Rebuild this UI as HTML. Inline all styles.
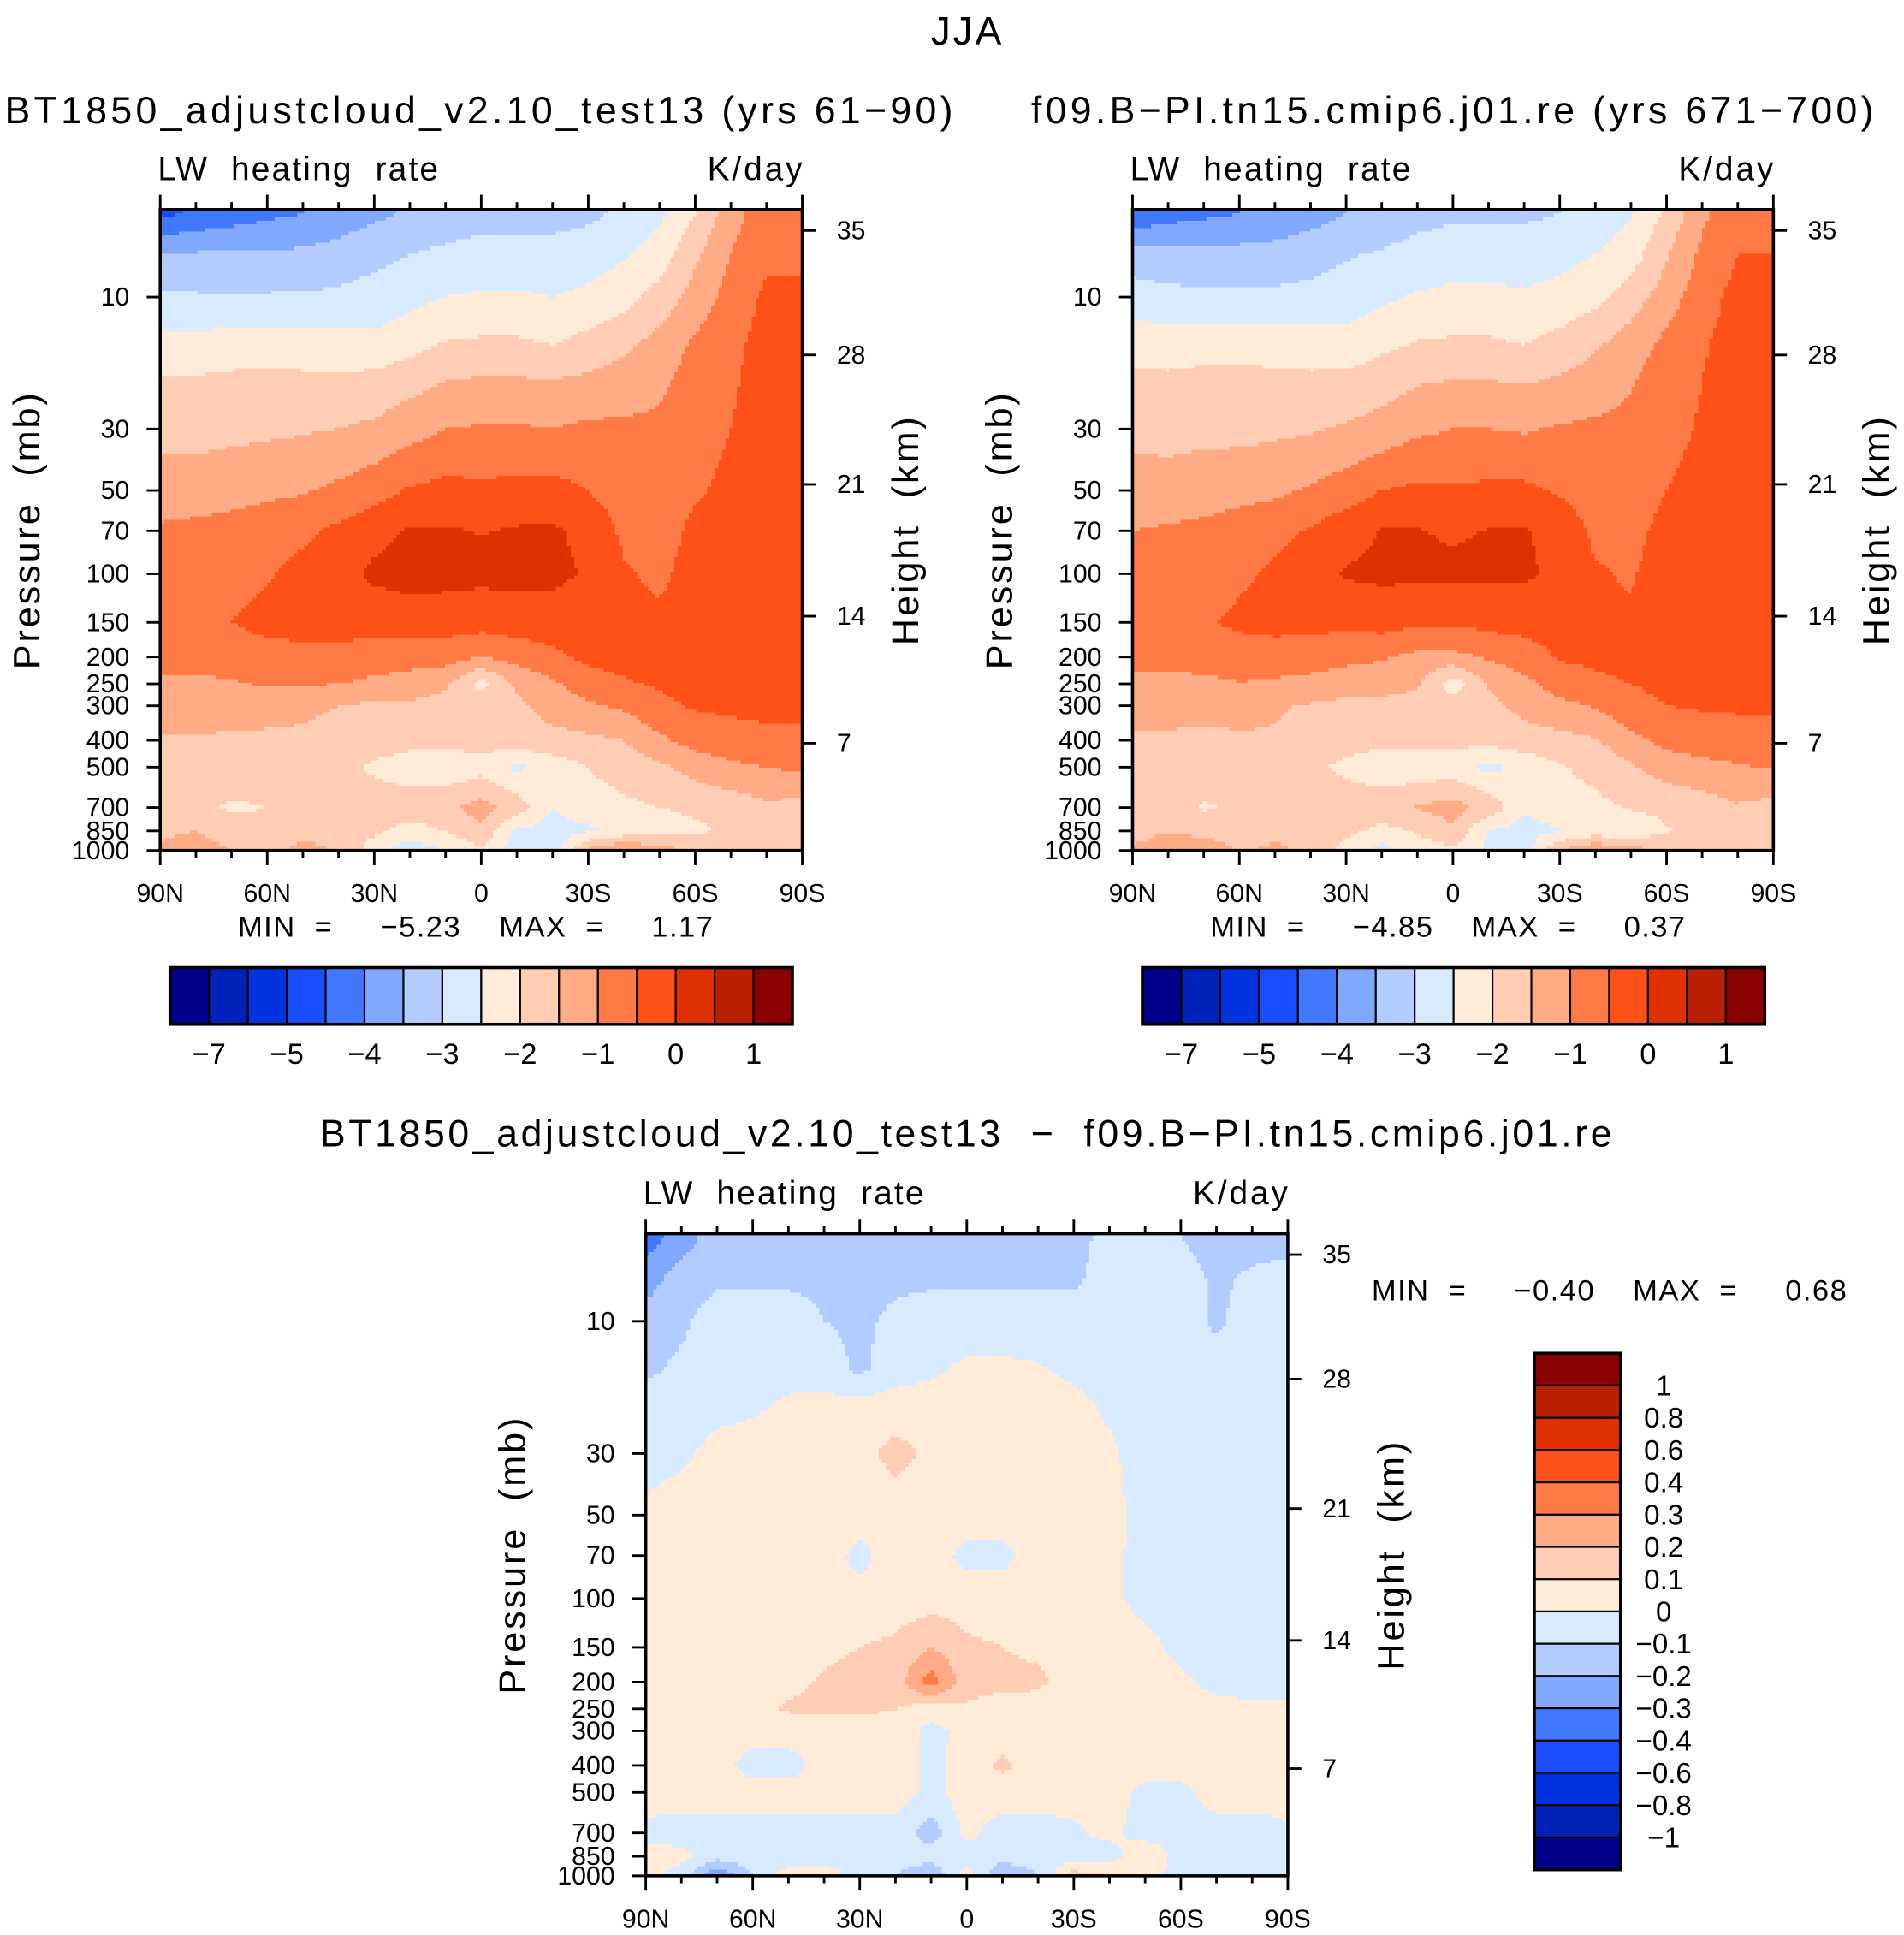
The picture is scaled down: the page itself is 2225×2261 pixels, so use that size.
<!DOCTYPE html>
<html><head><meta charset="utf-8">
<style>
html,body{margin:0;padding:0;background:#fff;}
svg{display:block;font-family:"Liberation Sans",sans-serif;}
text{white-space:pre;}
</style></head>
<body>
<svg id="root" width="2225" height="2261" viewBox="0 0 1545 1570" xmlns="http://www.w3.org/2000/svg">
<text x="785" y="36" font-size="32" text-anchor="middle" letter-spacing="2">JJA</text>
<g id="p1"></g>
<g id="p2"></g>
<g id="p3"></g>
</svg>
<script>
const NS="http://www.w3.org/2000/svg";
const lats=[90,80,70,60,50,40,30,20,10,0,-10,-20,-30,-40,-50,-60,-70,-80,-90];
const plevs=[5,7,10,15,20,30,50,70,100,150,200,250,300,400,500,700,850,1000];
const absLevels=[-7,-6,-5,-4.5,-4,-3.5,-3,-2.5,-2,-1.5,-1,-0.5,0,0.5,1];
const absLabels=["−7","−5","−4","−3","−2","−1","0","1"];
const diffLevels=[-1,-0.8,-0.6,-0.4,-0.3,-0.2,-0.1,0,0.1,0.2,0.3,0.4,0.6,0.8,1];
const diffLabels=["−1","−0.8","−0.6","−0.4","−0.3","−0.2","−0.1","0","0.1","0.2","0.3","0.4","0.6","0.8","1"];
const colors=["#00008b","#0022b8","#0033e0","#1a4dff","#4078ff","#80a8ff","#b3ccff","#d8eaff","#ffebd8","#ffcdb3","#ffab85","#ff7a45","#ff5018","#e03000","#b82000","#8b0000"];
const field1=[
[-4.65,-4.4,-4.25,-4.1,-4.0,-3.8,-3.6,-3.45,-3.3,-3.2,-3.2,-3.2,-3.1,-2.9,-2.6,-2.0,-1.2,-0.7,-0.7],
[-3.45,-3.45,-3.45,-3.45,-3.4,-3.3,-3.15,-3.0,-2.9,-2.8,-2.8,-2.8,-2.75,-2.55,-2.3,-1.6,-1.0,-0.6,-0.6],
[-2.9,-2.95,-2.95,-2.95,-2.95,-2.9,-2.8,-2.65,-2.5,-2.45,-2.45,-2.5,-2.4,-2.2,-1.8,-1.3,-0.8,-0.4,-0.4],
[-2.3,-2.3,-2.25,-2.2,-2.25,-2.3,-2.35,-2.15,-1.95,-1.9,-1.9,-2.0,-1.8,-1.6,-1.3,-0.9,-0.6,-0.35,-0.35],
[-1.95,-1.95,-1.9,-1.9,-1.9,-1.9,-1.85,-1.7,-1.5,-1.45,-1.45,-1.5,-1.4,-1.3,-1.1,-0.8,-0.55,-0.35,-0.35],
[-1.7,-1.7,-1.65,-1.6,-1.55,-1.5,-1.4,-1.2,-1.0,-0.95,-0.95,-1.0,-0.9,-0.9,-0.9,-0.7,-0.5,-0.35,-0.35],
[-1.2,-1.2,-1.15,-1.1,-1.05,-0.9,-0.7,-0.45,-0.35,-0.4,-0.35,-0.35,-0.5,-0.75,-0.8,-0.55,-0.4,-0.3,-0.3],
[-0.95,-0.9,-0.85,-0.75,-0.6,-0.4,-0.15,0.05,0.05,-0.02,0.05,0.08,-0.15,-0.6,-0.7,-0.4,-0.3,-0.3,-0.3],
[-0.8,-0.75,-0.7,-0.55,-0.35,-0.2,0.1,0.15,0.15,0.12,0.15,0.12,-0.05,-0.45,-0.6,-0.3,-0.3,-0.3,-0.3],
[-0.7,-0.65,-0.5,-0.35,-0.25,-0.25,-0.3,-0.2,-0.25,-0.3,-0.25,-0.25,-0.3,-0.35,-0.4,-0.3,-0.3,-0.3,-0.3],
[-0.8,-0.8,-0.75,-0.7,-0.7,-0.7,-0.75,-0.8,-0.8,-1.0,-0.8,-0.6,-0.4,-0.35,-0.3,-0.3,-0.3,-0.3,-0.3],
[-1.1,-1.1,-1.05,-0.95,-0.95,-1.0,-1.1,-1.2,-1.4,-2.2,-1.4,-1.1,-0.7,-0.55,-0.45,-0.35,-0.35,-0.35,-0.35],
[-1.2,-1.2,-1.25,-1.3,-1.4,-1.5,-1.6,-1.6,-1.7,-1.7,-1.6,-1.3,-1.1,-0.9,-0.6,-0.45,-0.4,-0.4,-0.4],
[-1.55,-1.55,-1.6,-1.6,-1.6,-1.65,-1.7,-1.8,-1.8,-1.8,-1.7,-1.65,-1.6,-1.5,-1.1,-0.8,-0.7,-0.6,-0.6],
[-1.6,-1.6,-1.6,-1.6,-1.7,-1.8,-2.1,-2.3,-2.4,-2.2,-2.6,-2.3,-2.0,-1.8,-1.6,-1.3,-1.1,-1.0,-0.9],
[-1.7,-1.8,-2.1,-2.0,-1.8,-1.7,-1.7,-1.7,-1.6,-1.3,-1.7,-2.5,-2.2,-2.1,-2.0,-1.9,-1.8,-1.6,-1.7],
[-1.6,-1.5,-1.7,-1.8,-1.6,-1.7,-1.9,-2.2,-2.0,-1.6,-2.6,-2.7,-2.6,-2.4,-2.3,-2.1,-1.9,-1.7,-1.8],
[-1.4,-1.3,-1.5,-1.6,-1.4,-1.5,-2.3,-2.8,-2.5,-2.1,-2.8,-2.9,-1.3,-0.9,-1.2,-1.6,-1.7,-1.6,-1.6]];
const field2=[
[-4.4,-4.2,-4.1,-4.0,-3.9,-3.7,-3.5,-3.35,-3.2,-3.1,-3.1,-3.1,-3.0,-2.85,-2.55,-1.9,-1.1,-0.6,-0.6],
[-3.3,-3.35,-3.35,-3.35,-3.3,-3.2,-3.05,-2.95,-2.8,-2.7,-2.7,-2.7,-2.65,-2.5,-2.25,-1.55,-0.9,-0.5,-0.5],
[-2.75,-2.85,-2.9,-2.9,-2.9,-2.85,-2.75,-2.6,-2.45,-2.4,-2.4,-2.45,-2.35,-2.15,-1.75,-1.25,-0.7,-0.35,-0.35],
[-2.2,-2.25,-2.2,-2.15,-2.2,-2.25,-2.3,-2.1,-1.95,-1.9,-1.9,-2.0,-1.8,-1.55,-1.25,-0.85,-0.55,-0.3,-0.3],
[-1.9,-1.9,-1.85,-1.85,-1.9,-1.9,-1.85,-1.75,-1.55,-1.5,-1.5,-1.55,-1.45,-1.3,-1.05,-0.75,-0.5,-0.3,-0.3],
[-1.65,-1.7,-1.65,-1.65,-1.6,-1.55,-1.45,-1.3,-1.1,-1.0,-1.0,-1.05,-0.95,-0.9,-0.85,-0.65,-0.45,-0.3,-0.3],
[-1.25,-1.25,-1.2,-1.15,-1.1,-0.95,-0.75,-0.5,-0.4,-0.45,-0.4,-0.4,-0.55,-0.75,-0.75,-0.5,-0.35,-0.25,-0.25],
[-1.0,-0.95,-0.9,-0.8,-0.65,-0.45,-0.2,0.02,0.02,-0.05,0.02,0.05,-0.2,-0.6,-0.65,-0.35,-0.25,-0.25,-0.25],
[-0.85,-0.8,-0.75,-0.6,-0.4,-0.25,0.05,0.1,0.1,0.08,0.1,0.08,-0.1,-0.45,-0.55,-0.25,-0.25,-0.25,-0.25],
[-0.75,-0.7,-0.55,-0.4,-0.3,-0.32,-0.38,-0.3,-0.4,-0.42,-0.35,-0.33,-0.35,-0.4,-0.43,-0.27,-0.25,-0.25,-0.25],
[-0.85,-0.85,-0.8,-0.75,-0.78,-0.81,-0.88,-0.95,-1.15,-1.15,-0.93,-0.72,-0.45,-0.4,-0.35,-0.32,-0.27,-0.25,-0.25],
[-1.15,-1.15,-1.1,-1.02,-1.06,-1.12,-1.22,-1.3,-1.45,-2.28,-1.45,-1.15,-0.75,-0.6,-0.5,-0.4,-0.38,-0.38,-0.38],
[-1.25,-1.25,-1.3,-1.35,-1.45,-1.55,-1.65,-1.65,-1.67,-1.73,-1.65,-1.35,-1.15,-0.95,-0.65,-0.5,-0.45,-0.45,-0.45],
[-1.6,-1.6,-1.65,-1.55,-1.55,-1.7,-1.75,-1.85,-1.77,-1.85,-1.82,-1.7,-1.65,-1.55,-1.15,-0.85,-0.75,-0.65,-0.65],
[-1.65,-1.65,-1.65,-1.65,-1.75,-1.85,-2.15,-2.35,-2.37,-2.25,-2.65,-2.35,-2.05,-1.85,-1.57,-1.27,-1.15,-1.05,-0.95],
[-1.67,-1.75,-2.05,-1.95,-1.75,-1.65,-1.65,-1.65,-1.45,-1.33,-1.65,-2.45,-2.18,-2.13,-1.95,-1.85,-1.75,-1.55,-1.68],
[-1.65,-1.53,-1.65,-1.75,-1.55,-1.65,-1.85,-2.15,-1.95,-1.55,-2.55,-2.65,-2.55,-2.35,-2.4,-2.05,-1.85,-1.65,-1.75],
[-1.45,-1.25,-1.2,-1.5,-1.45,-1.55,-2.25,-2.7,-2.3,-2.15,-2.6,-2.8,-1.45,-1.0,-1.25,-1.55,-1.65,-1.55,-1.55]];
const field3=[
[-0.35,-0.25,-0.15,-0.15,-0.15,-0.15,-0.15,-0.15,-0.15,-0.15,-0.15,-0.15,-0.15,-0.05,-0.05,-0.1,-0.15,-0.15,-0.15],
[-0.25,-0.15,-0.12,-0.12,-0.12,-0.12,-0.12,-0.12,-0.12,-0.12,-0.12,-0.12,-0.12,-0.05,-0.05,-0.05,-0.12,-0.08,-0.05],
[-0.15,-0.12,-0.05,-0.05,-0.05,-0.1,-0.12,-0.08,-0.05,-0.05,-0.05,-0.05,-0.05,-0.05,-0.05,-0.05,-0.12,-0.05,-0.05],
[-0.12,-0.08,-0.05,-0.05,-0.05,-0.05,-0.12,-0.05,-0.02,0.02,0.02,0.01,-0.02,-0.05,-0.05,-0.05,-0.05,-0.05,-0.05],
[-0.05,-0.05,-0.03,-0.02,0.02,0.03,0.03,0.05,0.05,0.05,0.05,0.04,0.03,-0.02,-0.05,-0.05,-0.05,-0.05,-0.05],
[-0.05,-0.02,0.03,0.05,0.05,0.05,0.07,0.13,0.08,0.06,0.05,0.05,0.05,0.02,-0.05,-0.05,-0.05,-0.05,-0.05],
[0.03,0.05,0.05,0.05,0.05,0.05,0.05,0.05,0.05,0.05,0.05,0.05,0.05,0.03,-0.03,-0.05,-0.05,-0.05,-0.05],
[0.05,0.05,0.05,0.05,0.05,0.05,-0.03,0.05,0.05,-0.03,-0.03,0.05,0.05,0.02,-0.03,-0.05,-0.05,-0.05,-0.05],
[0.05,0.05,0.05,0.05,0.05,0.05,0.03,0.05,0.05,0.05,0.05,0.05,0.03,0.02,-0.03,-0.05,-0.05,-0.05,-0.05],
[0.05,0.05,0.05,0.05,0.07,0.08,0.1,0.12,0.2,0.12,0.1,0.08,0.05,0.05,0.03,-0.03,-0.05,-0.05,-0.05],
[0.05,0.05,0.05,0.05,0.08,0.11,0.13,0.15,0.35,0.15,0.13,0.12,0.05,0.05,0.05,0.02,-0.03,-0.05,-0.05],
[0.05,0.05,0.05,0.07,0.11,0.12,0.12,0.1,0.05,0.08,0.05,0.05,0.05,0.05,0.05,0.05,0.03,0.03,0.03],
[0.05,0.05,0.05,0.05,0.05,0.05,0.05,0.05,-0.03,0.03,0.05,0.05,0.05,0.05,0.05,0.05,0.05,0.05,0.05],
[0.05,0.05,0.05,-0.05,-0.05,0.05,0.05,0.05,-0.03,0.05,0.12,0.05,0.05,0.05,0.05,0.05,0.05,0.05,0.05],
[0.05,0.05,0.05,0.05,0.05,0.05,0.05,0.05,-0.03,0.05,0.05,0.05,0.05,0.05,-0.03,-0.03,0.05,0.05,0.05],
[-0.03,-0.05,-0.05,-0.05,-0.05,-0.05,-0.05,-0.05,-0.15,0.03,-0.05,-0.05,-0.02,0.03,-0.05,-0.05,-0.05,-0.05,-0.02],
[0.05,0.03,-0.05,-0.05,-0.05,-0.05,-0.05,-0.05,-0.05,-0.05,-0.05,-0.05,-0.05,-0.05,0.1,-0.05,-0.05,-0.05,-0.05],
[0.05,-0.05,-0.3,-0.1,0.05,0.05,-0.05,-0.1,-0.2,0.05,-0.2,-0.1,0.15,0.1,0.05,-0.05,-0.05,-0.05,-0.05]];
const pTicks=[10,30,50,70,100,150,200,250,300,400,500,700,850,1000];
const hTicks=[35,28,21,14,7];
const latTicks=[90,60,30,0,-30,-60,-90];
const latTickLabels=["90N","60N","30N","0","30S","60S","90S"];

function el(parent,tag,attrs,name,inter){
  const e=document.createElementNS(NS,tag);
  for(const k in attrs)e.setAttribute(k,attrs[k]);
  
  
  parent.appendChild(e);return e;
}
function txt(parent,x,y,s,size,anchor,name,extra){
  const t=el(parent,'text',Object.assign({x:x,y:y,'font-size':size,'text-anchor':anchor||'start'},extra||{}),name,false);
  t.textContent=s;return t;
}
function drawPanel(g,P){
  const {x0,y0,W,H,field,levels}=P;
  const yTop=y0, y10=P.y10, dec=P.dec;
  const yOfP=p=>y10+(Math.log10(p)-1)*dec;
  const xOfLat=l=>x0+(90-l)/180*W;
  const lp=plevs.map(p=>Math.log10(p));
  function val(lat,logp){
    let fi=(90-lat)/10; fi=Math.max(0,Math.min(17.9999,fi));
    const i=Math.floor(fi),tx=fi-i;
    let j=0; if(logp>lp[0]){while(j<lp.length-2&&logp>lp[j+1])j++;}
    let ty=(logp-lp[j])/(lp[j+1]-lp[j]); ty=Math.max(0,Math.min(1,ty));
    const a=field[j][i]*(1-tx)+field[j][i+1]*tx;
    const b=field[j+1][i]*(1-tx)+field[j+1][i+1]*tx;
    return a*(1-ty)+b*ty;
  }
  function cidx(v){let k=0;while(k<levels.length&&v>=levels[k])k++;return k;}
  const cg=el(g,'g',{'shape-rendering':'crispEdges'},'contour-fill',false);
  const step=3;
  const nx=Math.ceil(W/step), ny=Math.ceil(H/step);
  for(let r=0;r<ny;r++){
    const y=yTop+r*step;
    const hgt=Math.min(step,yTop+H-y)+0.6;
    const logp=1+(y+step/2-y10)/dec;
    let runStart=0,runC=-1;
    for(let ci=0;ci<=nx;ci++){
      let c=-2;
      if(ci<nx){const x=x0+ci*step;const lat=90-(x+step/2-x0)/W*180;c=cidx(val(lat,logp));}
      if(c!==runC){
        if(runC>=0){
          const xs=x0+runStart*step;
          const xe=Math.min(x0+ci*step,x0+W);
          el(cg,'rect',{x:xs,y:y,width:xe-xs+0.6,height:hgt,fill:colors[runC]},'contour-band',false);
        }
        runStart=ci;runC=c;
      }
    }
  }
  el(g,'rect',{x:x0,y:yTop,width:W,height:H,fill:'none',stroke:'#000','stroke-width':2.5},'plot-frame',false);
  for(const p of pTicks){
    const y=yOfP(p);
    el(g,'line',{x1:x0-11,y1:y,x2:x0,y2:y,stroke:'#000','stroke-width':2},'pressure-tick',false);
    txt(g,x0-25,y+7,String(p),21,'end','pressure-tick-label');
  }
  hTicks.forEach((h,i)=>{
    const y=P.hY[i];
    el(g,'line',{x1:x0+W,y1:y,x2:x0+W+11,y2:y,stroke:'#000','stroke-width':2},'height-tick',false);
    txt(g,x0+W+28,y+7,String(h),21,'start','height-tick-label');
  });
  for(let l=90;l>=-90;l-=10){
    const x=xOfLat(l);const major=l%30===0;const len=major?12:6;
    el(g,'line',{x1:x,y1:yTop+H,x2:x,y2:yTop+H+len,stroke:'#000','stroke-width':2},'lat-tick',false);
    el(g,'line',{x1:x,y1:yTop,x2:x,y2:yTop-len,stroke:'#000','stroke-width':2},'lat-tick-top',false);
  }
  latTicks.forEach((l,i)=>txt(g,xOfLat(l),yTop+H+42,latTickLabels[i],21,'middle','lat-tick-label'));
  txt(g,x0-2,yTop-24,'LW  heating  rate',27,'start','variable-label',{'letter-spacing':'1.5'});
  txt(g,x0+W+2,yTop-24,'K/day',27,'end','units-label',{'letter-spacing':'2'});
  txt(g,0,0,'Pressure  (mb)',30,'middle','y-axis-title',{transform:`translate(${x0-98},${yTop+H/2}) rotate(-90)`,'letter-spacing':'2'});
  txt(g,0,0,'Height  (km)',30,'middle','right-axis-title',{transform:`translate(${x0+W+94},${yTop+H/2}) rotate(-90)`,'letter-spacing':'2'});
}
function hbar(g,x,y,w,h,labels){
  const bw=w/16;
  colors.forEach((c,i)=>el(g,'rect',{x:x+i*bw,y:y,width:bw,height:h,fill:c,stroke:'#000','stroke-width':1.5},'colorbar-box',false));
  el(g,'rect',{x:x,y:y,width:w,height:h,fill:'none',stroke:'#000','stroke-width':2.5},'colorbar-frame',false);
  const idx=[1,3,5,7,9,11,13,15];
  labels.forEach((s,i)=>txt(g,x+idx[i]*bw,y+h+32,s,24,'middle','colorbar-label'));
}
const p1=document.getElementById('p1'),p2=document.getElementById('p2'),p3=document.getElementById('p3');
txt(p1,390,100,'BT1850_adjustcloud_v2.10_test13 (yrs 61−90)',31,'middle','panel-title',{'letter-spacing':'3'});
drawPanel(p1,{x0:130,y0:170,W:521,H:520,y10:241,dec:224.5,field:field1,levels:absLevels,hY:[187,288,393,500,603]});
txt(p1,193,760,'MIN  =     −5.23    MAX  =     1.17',24,'start','min-max-label',{'letter-spacing':'1'});
hbar(p1,138,785,505,46,absLabels);

txt(p2,1180,100,'f09.B−PI.tn15.cmip6.j01.re (yrs 671−700)',31,'middle','panel-title',{'letter-spacing':'3'});
drawPanel(p2,{x0:919,y0:170,W:520,H:520,y10:241,dec:224.5,field:field2,levels:absLevels,hY:[187,288,393,500,603]});
txt(p2,982,760,'MIN  =     −4.85    MAX  =     0.37',24,'start','min-max-label',{'letter-spacing':'1'});
hbar(p2,927,785,505,46,absLabels);

txt(p3,785,930,'BT1850_adjustcloud_v2.10_test13  −  f09.B−PI.tn15.cmip6.j01.re',31,'middle','panel-title',{'letter-spacing':'2.5'});
drawPanel(p3,{x0:524,y0:1001,W:521,H:521,y10:1072,dec:225,field:field3,levels:diffLevels,hY:[1018,1119,1224,1331,1435]});
txt(p3,1113,1055,'MIN  =     −0.40    MAX  =     0.68',24,'start','min-max-label',{'letter-spacing':'1'});
(function(){
  const x=1245,y=1098,w=70,h=419,bh=h/16;
  colors.slice().reverse().forEach((c,i)=>el(p3,'rect',{x:x,y:y+i*bh,width:w,height:bh,fill:c,stroke:'#000','stroke-width':1.5},'colorbar-box',false));
  el(p3,'rect',{x:x,y:y,width:w,height:h,fill:'none',stroke:'#000','stroke-width':2.5},'colorbar-frame',false);
  diffLabels.slice().reverse().forEach((s,i)=>txt(p3,1350,y+(i+1)*bh+8,s,23,'middle','colorbar-label'));
})();
</script>
</body></html>
